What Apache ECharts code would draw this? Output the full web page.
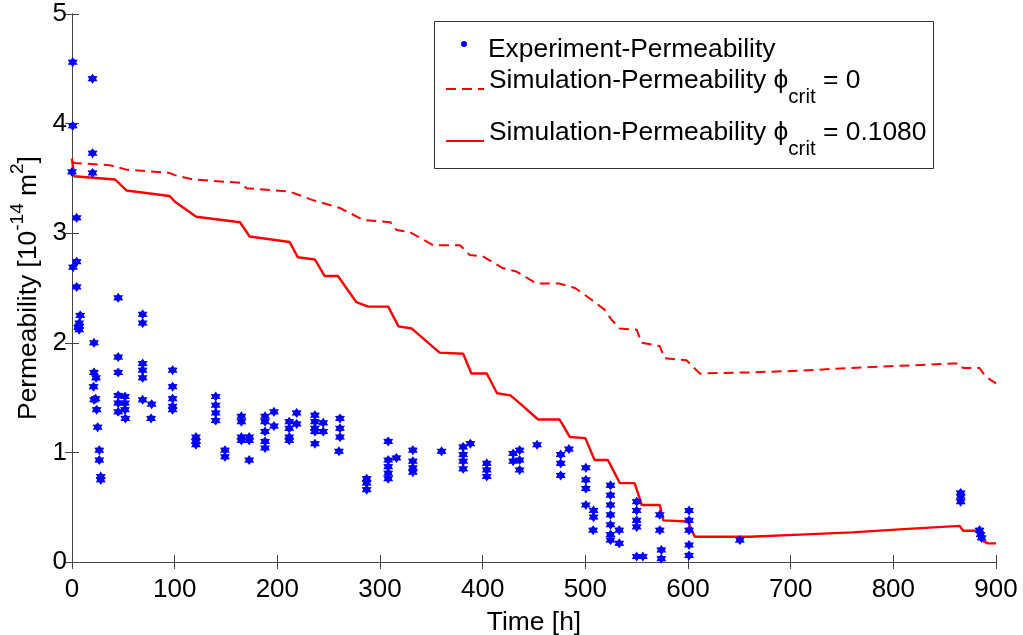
<!DOCTYPE html>
<html>
<head>
<meta charset="utf-8">
<script src="https://cdn.jsdelivr.net/npm/echarts@6/dist/echarts.min.js"></script>
<style>html,body{margin:0;padding:0;background:#fff;}#chart{width:1023px;height:635px;}</style>
</head>
<body>
<div id="chart"></div>
<script>
// Time [h], permeability [1e-14 m^2]
const experiment = [
  [0.7,4.56],[0.7,3.98],[0,3.56],[4.5,3.14],[1,2.69],[4.5,2.74],[4.5,2.51],[8,2.25],[7,2.18],[7,2.15],[7,2.12],[6,2.14],
  [20,4.41],[20,3.73],[20,3.55],
  [21.4,2.00],[21.4,1.73],[23.4,1.68],[21,1.60],[23,1.49],[21.4,1.48],[24,1.39],[25,1.23],[26.6,1.02],[26.6,0.93],[28,0.78],[28,0.75],
  [45,2.41],[45,1.87],[45,1.73],[45,1.52],[45,1.45],[45,1.37],[51.6,1.51],[51.6,1.45],[51.6,1.39],[52,1.31],
  [68.8,2.26],[68.8,2.18],[68.8,1.81],[68.8,1.75],[68.8,1.68],[68.8,1.48],[77.6,1.44],[77,1.31],
  [98,1.75],[98,1.60],[98,1.49],[98,1.42],[98,1.39],
  [120.7,1.14],[120.7,1.10],[120.7,1.07],
  [140,1.51],[140,1.43],[140,1.36],[140,1.29],[149,1.02],[149,0.96],
  [165,1.33],[165,1.28],[165,1.14],[165,1.11],[172.6,1.14],[172.6,1.11],[172.6,0.93],
  [188,1.33],[188,1.28],[188,1.19],[188,1.10],[188,1.04],[196.7,1.37],[196.7,1.24],
  [211.6,1.28],[211.6,1.22],[211.6,1.14],[211.6,1.11],[218.8,1.36],[218.8,1.26],
  [236.6,1.34],[236.6,1.28],[236.6,1.22],[236.6,1.19],[236.6,1.08],[244.7,1.27],[244.7,1.19],
  [261,1.31],[261,1.22],[261,1.14],[260,1.01],
  [287,0.76],[287,0.72],[287,0.66],
  [308,1.10],[308,0.93],[308,0.87],[308,0.81],[308,0.76],[316,0.95],
  [332,1.02],[332,0.92],[332,0.86],[332,0.82],
  [360,1.01],
  [381,1.05],[381,0.98],[381,0.92],[381,0.85],[388,1.08],
  [404,0.90],[404,0.84],[404,0.78],
  [429.7,0.99],[429.7,0.92],[436,1.02],[436,0.93],[436,0.84],
  [453,1.07],
  [476,0.98],[476,0.90],[476,0.79],[484,1.03],
  [500.5,0.86],[500.5,0.75],[500.5,0.67],[500.5,0.52],[508,0.47],[508,0.41],[507.6,0.29],
  [524.5,0.70],[524.5,0.61],[524.5,0.52],[524.5,0.43],[524.5,0.34],[524.5,0.25],[524.5,0.20],[533,0.29],[533,0.17],
  [550,0.55],[550,0.47],[550,0.38],[550,0.32],[550,0.05],[556,0.05],
  [572.5,0.43],[572.5,0.29],[574,0.11],[574,0.03],
  [601,0.47],[601,0.38],[601,0.29],[601,0.155],[601,0.06],
  [650.5,0.20],
  [865.6,0.63],[865.6,0.60],[865.6,0.55],[884,0.29],[885,0.25],[886,0.22]
];
const simPhi0 = [
  [0,3.65],[3,3.64],[37,3.62],[53,3.58],[95,3.55],[100,3.53],[118,3.49],[163.6,3.46],[170,3.41],[212,3.38],
  [235,3.30],[261,3.23],[284,3.12],[310,3.10],[316,3.03],[329,3.01],[352,2.89],[378,2.89],[387.5,2.80],[400,2.79],
  [420,2.68],[433,2.65],[452.5,2.54],[475,2.54],[490,2.50],[505,2.40],[519,2.30],[525.5,2.21],[533.6,2.13],[550,2.12],
  [554.7,2.0],[572.5,1.97],[577,1.86],[598.5,1.84],[611.5,1.72],[660,1.73],[709,1.745],[757.5,1.77],[806,1.79],
  [858,1.81],[864.6,1.81],[868,1.77],[884,1.77],[890,1.69],[900,1.63]
];
const simPhi1080 = [
  [0,3.68],[2,3.52],[42,3.49],[53,3.39],[95,3.34],[100,3.29],[121,3.15],[163.6,3.10],[173,2.97],[212,2.92],
  [220,2.78],[236.6,2.76],[246,2.61],[259,2.61],[277,2.37],[288.5,2.33],[308,2.33],[318,2.15],[331,2.13],[358,1.91],
  [381,1.90],[389,1.72],[404,1.72],[414,1.54],[427,1.52],[436,1.45],[454,1.30],[475,1.30],[485,1.14],[500,1.13],
  [509,0.93],[522,0.93],[533.6,0.72],[548,0.72],[555,0.52],[572.5,0.52],[576,0.38],[600,0.37],[606.6,0.23],[660,0.23],
  [709,0.25],[760,0.27],[810,0.30],[864.6,0.33],[868,0.285],[884,0.285],[886,0.20],[892,0.17],[900,0.17]
];
const seriesNames = ['Experiment-Permeability', 'Simulation-Permeability phi0', 'Simulation-Permeability phi1080'];
const legendLabels = {
  'Experiment-Permeability': '{e|Experiment-Permeability}',
  'Simulation-Permeability phi0': '{a|Simulation-Permeability ϕ}{s|crit}{a| = 0}',
  'Simulation-Permeability phi1080': '{a|Simulation-Permeability ϕ}{s|crit}{a| = 0.1080}'
};
const xTicks = {min: 0, max: 900, interval: 100};
const yTicks = {min: 0, max: 5, interval: 1};

const FONT = 'Liberation Sans';
const axisColor = '#444';
const chart = echarts.init(document.getElementById('chart'), null, {renderer: 'canvas'});
const asterisk = 'path://M10,0L13,4.8L18.66,5L16,10L18.66,15L13,15.2L10,20L7,15.2L1.34,15L4,10L1.34,5L7,4.8Z';

const legendText = {
  color: '#000', fontFamily: FONT, fontSize: 26.4,
  rich: {
    e: {fontFamily: FONT, fontSize: 26.4, color: '#000', padding: [12, 0, 0, 0]},
    a: {fontFamily: FONT, fontSize: 26.4, color: '#000', padding: [0, 0, 16, 0]},
    s: {fontFamily: FONT, fontSize: 20.5, color: '#000', padding: [16, 0, 0, 0]}
  }
};
function makeLegend(idx, left, top, extra) {
  return {
    orient: 'vertical', left: left, top: top, padding: 0,
    itemWidth: 38, itemHeight: 6, z: 5,
    data: [Object.assign({name: seriesNames[idx]}, extra)],
    formatter: n => legendLabels[n],
    textStyle: legendText
  };
}

chart.setOption({
  animation: false,
  backgroundColor: '#fff',
  grid: {left: 72, right: 27, top: 14, bottom: 73, containLabel: false, outerBoundsMode: 'none'},
  graphic: [{
    type: 'rect', z: 4,
    shape: {x: 434.5, y: 21.5, width: 499, height: 147},
    style: {fill: '#fff', stroke: '#333', lineWidth: 1}
  }],
  legend: [
    makeLegend(0, 461, 37, {icon: 'circle'}),
    makeLegend(1, 445, 68, {itemStyle: {opacity: 0}}),
    makeLegend(2, 445, 120, {itemStyle: {opacity: 0}})
  ],
  xAxis: [{
    type: 'value', position: 'bottom', ...xTicks,
    name: 'Time [h]', nameLocation: 'middle', nameGap: 48,
    nameTextStyle: {fontFamily: FONT, fontSize: 26.4, color: '#000'},
    axisLine: {show: true, lineStyle: {color: axisColor, width: 1}},
    axisTick: {show: true, inside: true, length: 7, lineStyle: {color: axisColor}},
    axisLabel: {fontFamily: FONT, fontSize: 26, color: '#000', margin: 15},
    splitLine: {show: false}
  }, {
    type: 'value', position: 'top', ...xTicks,
    axisLine: {show: true, lineStyle: {color: axisColor, width: 1}},
    axisTick: {show: true, inside: true, length: 7, lineStyle: {color: axisColor}},
    axisLabel: {show: false}, splitLine: {show: false}
  }],
  yAxis: [{
    type: 'value', position: 'left', ...yTicks,
    name: '{a|Permeability [10}{p|-14}{a| m}{p|2}{a|]}',
    nameLocation: 'middle', nameGap: 28, nameRotate: 90, nameMoveOverlap: false,
    nameTextStyle: {
      fontFamily: FONT, fontSize: 26.4, color: '#000',
      rich: {
        a: {fontFamily: FONT, fontSize: 26.4, color: '#000', lineHeight: 30},
        p: {fontFamily: FONT, fontSize: 19, color: '#000', lineHeight: 30, padding: [0, 0, 22, 0]}
      }
    },
    axisLine: {show: true, lineStyle: {color: axisColor, width: 1}},
    axisTick: {show: true, inside: true, length: 7, lineStyle: {color: axisColor}},
    axisLabel: {fontFamily: FONT, fontSize: 26, color: '#000', margin: 5},
    splitLine: {show: false}
  }, {
    type: 'value', position: 'right', ...yTicks,
    axisLine: {show: true, lineStyle: {color: axisColor, width: 1}},
    axisTick: {show: true, inside: true, length: 7, lineStyle: {color: axisColor}},
    axisLabel: {show: false}, splitLine: {show: false}
  }],
  series: [
    {
      name: seriesNames[0], type: 'scatter', data: experiment,
      symbol: asterisk, symbolSize: 10,
      itemStyle: {color: '#0000ff', opacity: 1}, z: 3
    },
    {
      name: seriesNames[1], type: 'line', data: simPhi0,
      showSymbol: false, symbol: 'none',
      lineStyle: {color: '#ff0000', width: 2, type: [10, 6]},
      itemStyle: {color: '#ff0000'}, z: 2
    },
    {
      name: seriesNames[2], type: 'line', data: simPhi1080,
      showSymbol: false, symbol: 'none',
      lineStyle: {color: '#ff0000', width: 2.4, type: 'solid'},
      itemStyle: {color: '#ff0000'}, z: 2
    }
  ]
});
</script>
</body>
</html>
